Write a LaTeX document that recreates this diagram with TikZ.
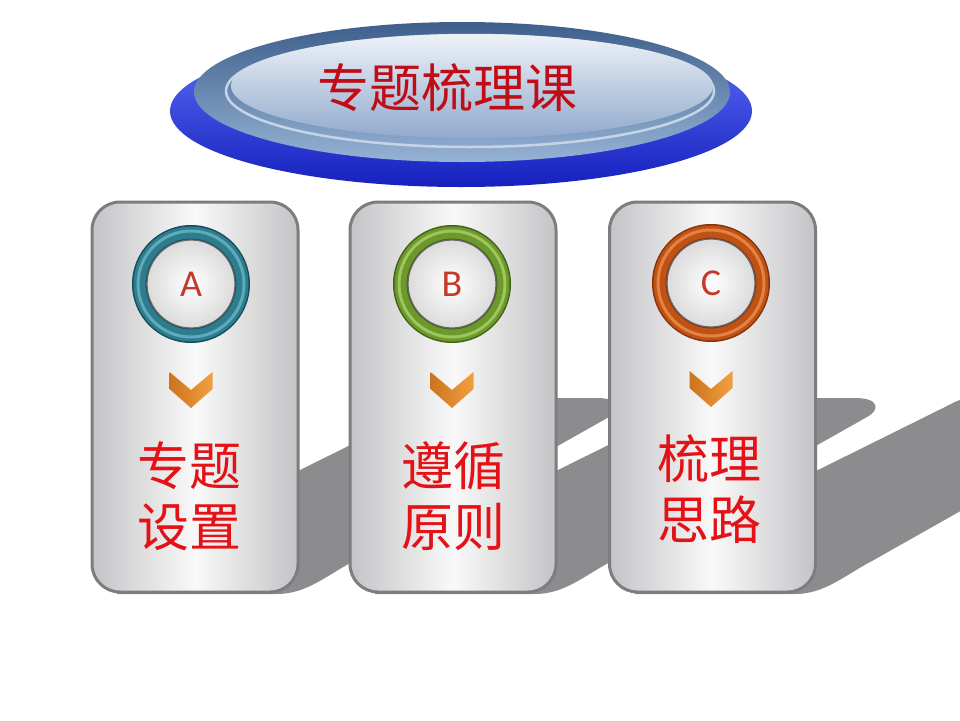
\documentclass[tikz,border=0pt]{standalone}
\usepackage{fontspec}
\newfontfamily\cjk{Noto Sans CJK SC}
\newfontfamily\lat{Carlito}
\definecolor{titlered}{RGB}{192,12,22}
\definecolor{textred}{RGB}{228,18,22}
\definecolor{letterred}{RGB}{196,58,42}
\definecolor{shadowgray}{RGB}{140,140,143}
\definecolor{cardedge}{RGB}{125,125,128}
\definecolor{cardside}{RGB}{196,196,199}
\definecolor{cardmid}{RGB}{249,249,249}
\definecolor{chevdark}{RGB}{205,115,30}
\definecolor{chevlight}{RGB}{242,160,64}
\definecolor{blueA}{RGB}{95,115,250}
\definecolor{blueB}{RGB}{22,32,190}
\definecolor{steelA}{RGB}{62,95,140}
\definecolor{steelB}{RGB}{150,178,212}
\definecolor{paleA}{RGB}{238,242,248}
\definecolor{paleB}{RGB}{145,170,205}
\definecolor{tealdark}{RGB}{22,78,92}
\definecolor{tealmain}{RGB}{45,125,142}
\definecolor{teallight}{RGB}{95,170,186}
\definecolor{greendark}{RGB}{66,100,22}
\definecolor{greenmain}{RGB}{108,152,44}
\definecolor{greenlight}{RGB}{158,198,92}
\definecolor{orangedark}{RGB}{135,50,10}
\definecolor{orangemain}{RGB}{192,82,22}
\definecolor{orangelight}{RGB}{228,130,66}
\tikzset{
  card/.style={draw=cardedge, line width=3pt, rounded corners=28pt,
    minimum width=206pt, minimum height=390pt, inner sep=0pt,
    left color=cardside, right color=cardside, middle color=cardmid},
  ringnode/.style={circle, minimum size=118pt, inner sep=0pt},
  ballnode/.style={circle, minimum size=88pt, inner sep=0pt,
    inner color=white, outer color=black!14, draw=black!60, line width=1.2pt},
  letter/.style={font=\lat\fontsize{38}{40}\selectfont, text=letterred, inner sep=0pt},
  cardtext/.style={font=\cjk\fontsize{52}{61}\selectfont, text=textred, align=center, inner sep=0pt},
  chevfill/.style={left color=chevdark, right color=chevlight},
  chevron/.pic={
    \path[chevfill] (-21.5,-18) -- (0,0) -- (21.5,-18) -- (21.5,-1) -- (0,18) -- (-21.5,-1) -- cycle;
  }
}
\newcommand\cardshadow[1]{%
  \fill[shadowgray] ({#1+25},594) -- ({#1+185},594)
    .. controls ({#1+215},594) and ({#1+235},575) .. ({#1+262},561)
    -- ({#1+517},417)
    .. controls ({#1+530},410) and ({#1+530},398) .. ({#1+505},398)
    -- ({#1+365},398)
    .. controls ({#1+350},398) and ({#1+345},402) .. ({#1+335},407)
    -- ({#1+208},470) -- ({#1+25},562) -- cycle;}
\begin{document}
\begin{tikzpicture}[x=1pt,y=-1pt]
\useasboundingbox (0,0) rectangle (960,720);
\fill[white] (0,0) rectangle (960,720);
% shadows
\begin{scope}
  \clip (0,0) rectangle (960,720);
  \cardshadow{92}
  \cardshadow{350}
  \cardshadow{610}
\end{scope}
% title disc
\shade[top color=blueA, bottom color=blueB] (461,111) ellipse (291 and 76);
\shade[top color=steelA, bottom color=steelB] (462,92) ellipse (268 and 70);
\draw[steelB!55!white, line width=2.5pt] (470,91) ellipse (244 and 56);
\shade[top color=paleA, bottom color=paleB] (472,86) ellipse (241 and 52);
\node[font=\cjk\fontsize{52}{60}\selectfont, text=titlered, inner sep=0pt] (title) at (447,88) {专题梳理课};
% cards
\node[card] (cardA) at (195,397) {};
\node[card] (cardB) at (453,397) {};
\node[card] (cardC) at (712.5,397) {};
% rings
\node[ringnode, fill=tealdark] (ringA) at (191,284) {};
\draw[tealmain, line width=12pt] (ringA.center) circle (51.5);
\draw[teallight, line width=3pt] (ringA.center) circle (53);
\node[ballnode] (ballA) at (ringA) {};
\node[letter] (letA) at (ballA) {A};
\node[ringnode, fill=greendark] (ringB) at (452,284) {};
\draw[greenmain, line width=12pt] (ringB.center) circle (51.5);
\draw[greenlight, line width=3pt] (ringB.center) circle (53);
\node[ballnode] (ballB) at (ringB) {};
\node[letter] (letB) at (ballB) {B};
\node[ringnode, fill=orangedark] (ringC) at (711,283) {};
\draw[orangemain, line width=12pt] (ringC.center) circle (51.5);
\draw[orangelight, line width=3pt] (ringC.center) circle (53);
\node[ballnode] (ballC) at (ringC) {};
\node[letter] (letC) at (ballC) {C};
% chevrons
\pic (chevA) at (191,390) {chevron};
\pic (chevB) at (452,390) {chevron};
\pic (chevC) at (711,389) {chevron};
% texts
\node[cardtext] (txtA) at (189,496) {专题\\设置};
\node[cardtext] (txtB) at (453,496) {遵循\\原则};
\node[cardtext] (txtC) at (709,489) {梳理\\思路};
\end{tikzpicture}
\end{document}
